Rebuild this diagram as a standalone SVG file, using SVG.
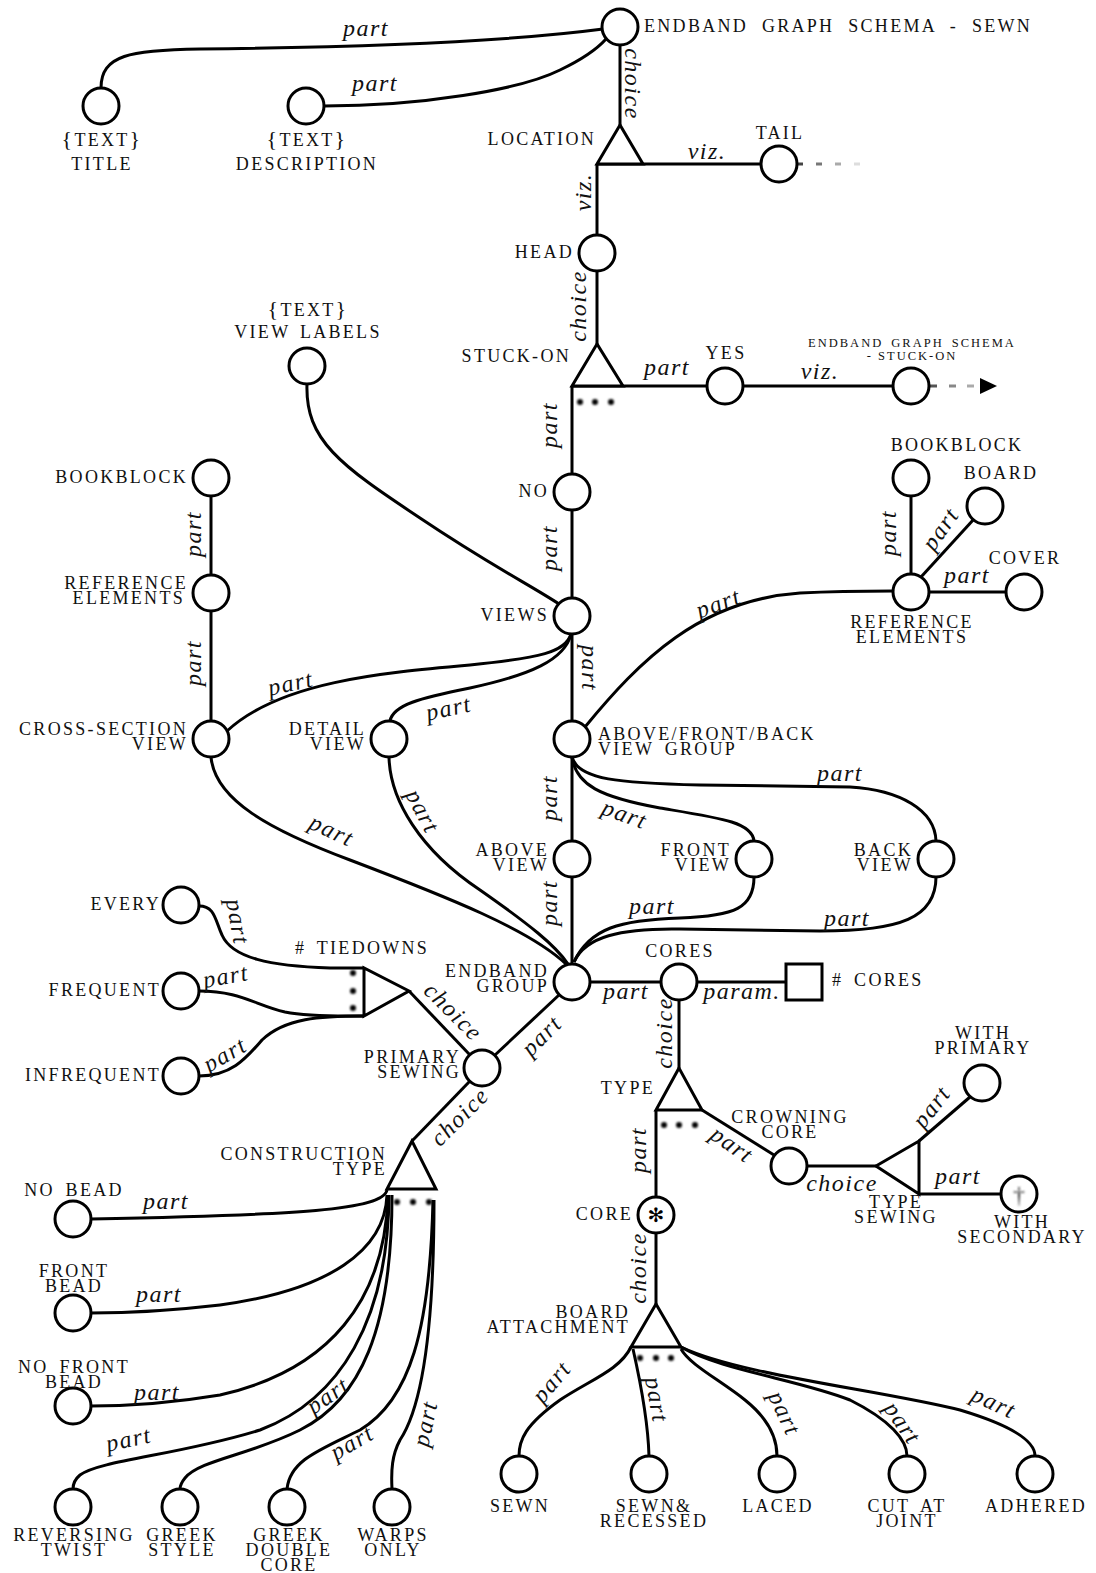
<svg xmlns="http://www.w3.org/2000/svg" width="1096" height="1573" viewBox="0 0 1096 1573">
<defs>
<style>
.n{fill:#fff;stroke:#000;stroke-width:3}
.e{fill:none;stroke:#000;stroke-width:3}
.t{font-family:"Liberation Serif",serif;font-size:18px;letter-spacing:2.3px;fill:#111}
.s{font-family:"Liberation Serif",serif;font-size:12.5px;letter-spacing:2px;fill:#111}
.m{text-anchor:middle}
.r{text-anchor:end}
.it{font-family:"Liberation Serif",serif;font-style:italic;font-size:24px;letter-spacing:1.5px;text-anchor:middle;fill:#111}
.dot{fill:#000;filter:url(#blur)}
</style>
<filter id="blur" x="-1" y="-1" width="3" height="3"><feGaussianBlur stdDeviation="1.2"/></filter>
</defs>
<rect width="1096" height="1573" fill="#fff"/>

<g id="connectors">
<path class="e" d="M101 88 C101 55 130 50 200 49 C380 47 520 40 603 29"/>
<path class="e" d="M324 106 C420 106 520 90 560 70 C585 58 598 48 606 39"/>
<path class="e" d="M620 45 L620 125"/>
<path class="e" d="M597 164 L761 164"/>
<path class="e" d="M597 164 L597 235"/>
<path class="e" d="M597 271 L597 344"/>
<path class="e" d="M572 386 L707 386"/>
<path class="e" d="M743 386 L893 386"/>
<path class="e" d="M572 386 L572 474"/>
<path class="e" d="M572 510 L572 598"/>
<path class="e" d="M307 384 C305 440 340 465 420 518 C490 565 530 585 559 604"/>
<path class="e" d="M211 496 L211 575"/>
<path class="e" d="M211 611 L211 721"/>
<path class="e" d="M571 634 C566 652 540 658 470 665 C380 673 280 682 227 731"/>
<path class="e" d="M571 634 C565 660 530 675 470 688 C420 698 393 705 390 721"/>
<path class="e" d="M572 634 L572 721"/>
<path class="e" d="M585 727 C640 660 700 600 800 593 C840 591 870 591 893 591"/>
<path class="e" d="M911 574 L911 496"/>
<path class="e" d="M921 577 L974 519"/>
<path class="e" d="M929 592 L1006 592"/>
<path class="e" d="M572 757 L572 841"/>
<path class="e" d="M572 757 C576 785 600 797 660 808 C720 818 752 822 754 841"/>
<path class="e" d="M572 757 C578 780 620 783 700 785 L850 787 C900 790 935 810 936 841"/>
<path class="e" d="M572 877 L572 964"/>
<path class="e" d="M754 877 C754 908 735 916 680 918 C620 920 590 928 574 962"/>
<path class="e" d="M936 877 C936 918 900 931 820 931 L680 929 C620 928 585 937 574 962"/>
<path class="e" d="M211 757 C215 800 270 830 350 860 C450 898 530 930 566 964"/>
<path class="e" d="M389 757 C390 800 420 850 480 890 C530 925 555 945 568 964"/>
<path class="e" d="M590 982 L661 982"/>
<path class="e" d="M697 982 L786 982"/>
<path class="e" d="M679 1000 L679 1068"/>
<path class="e" d="M656 1110 L656 1197"/>
<path class="e" d="M702 1110 L774 1155"/>
<path class="e" d="M807 1166 L876 1166"/>
<path class="e" d="M919 1141 L970 1097"/>
<path class="e" d="M919 1194 L1001 1194"/>
<path class="e" d="M656 1233 L656 1304"/>
<path class="e" d="M631 1347 C620 1370 590 1380 560 1400 C525 1425 519 1440 519 1456"/>
<path class="e" d="M633 1349 C640 1380 648 1420 649 1456"/>
<path class="e" d="M681 1349 C690 1365 720 1380 745 1400 C770 1420 777 1440 777 1456"/>
<path class="e" d="M681 1347 C720 1370 800 1380 850 1400 C890 1420 907 1440 907 1456"/>
<path class="e" d="M681 1347 C740 1375 880 1390 960 1410 C1010 1425 1035 1440 1035 1456"/>
<path class="e" d="M199 906 C215 906 215 920 222 935 C232 958 270 966 330 968 L364 968"/>
<path class="e" d="M199 991 C240 991 255 1005 285 1012 C310 1017 340 1016 364 1016"/>
<path class="e" d="M199 1076 C230 1076 245 1060 262 1040 C285 1018 320 1016 364 1016"/>
<path class="e" d="M409 991 L470 1055"/>
<path class="e" d="M559 995 L495 1055"/>
<path class="e" d="M470 1081 L412 1141"/>
<path class="e" d="M387 1190 C383 1210 300 1215 91 1219"/>
<path class="e" d="M387 1195 C385 1250 330 1290 220 1305 C160 1312 120 1313 91 1313"/>
<path class="e" d="M388 1195 C385 1300 330 1370 220 1395 C160 1405 120 1406 91 1406"/>
<path class="e" d="M389 1195 C388 1320 340 1400 260 1430 C180 1455 100 1460 80 1475 C74 1480 73 1485 73 1489"/>
<path class="e" d="M392 1195 C392 1330 360 1400 300 1430 C250 1455 200 1460 185 1478 C181 1483 180 1486 180 1489"/>
<path class="e" d="M433 1200 C430 1330 410 1400 360 1430 C320 1450 290 1460 287 1489"/>
<path class="e" d="M434 1200 C434 1340 420 1410 400 1440 C392 1455 391 1470 392 1489"/>
<g stroke-width="3">
<path d="M797 164 H803" stroke="#444"/>
<path d="M816 164 H822" stroke="#777"/>
<path d="M835 164 H841" stroke="#aaa"/>
<path d="M854 164 H860" stroke="#ddd"/>
<path d="M930 386 H937" stroke="#555"/>
<path d="M949 386 H956" stroke="#888"/>
<path d="M967 386 H974" stroke="#aaa"/>
</g>
<path d="M980 378 L997 386 L980 394 Z" fill="#000"/>
</g>

<g id="edge-labels">
<text class="it" transform="translate(366,30)" y="6">part</text>
<text class="it" transform="translate(375,85)" y="6">part</text>
<text class="it" transform="translate(631,84) rotate(90)" y="6">choice</text>
<text class="it" transform="translate(707,153)" y="6">viz.</text>
<text class="it" transform="translate(585,192) rotate(-90)" y="6">viz.</text>
<text class="it" transform="translate(580,306) rotate(-90)" y="6">choice</text>
<text class="it" transform="translate(667,369)" y="6">part</text>
<text class="it" transform="translate(820,373)" y="6">viz.</text>
<text class="it" transform="translate(551,425) rotate(-90)" y="6">part</text>
<text class="it" transform="translate(551,548) rotate(-90)" y="6">part</text>
<text class="it" transform="translate(195,534) rotate(-90)" y="6">part</text>
<text class="it" transform="translate(195,663) rotate(-90)" y="6">part</text>
<text class="it" transform="translate(291,685) rotate(-12)" y="6">part</text>
<text class="it" transform="translate(449,710) rotate(-12)" y="6">part</text>
<text class="it" transform="translate(588,668) rotate(90)" y="6">part</text>
<text class="it" transform="translate(719,605) rotate(-20)" y="6">part</text>
<text class="it" transform="translate(890,533) rotate(-90)" y="6">part</text>
<text class="it" transform="translate(942,530) rotate(-55)" y="6">part</text>
<text class="it" transform="translate(967,577)" y="6">part</text>
<text class="it" transform="translate(551,798) rotate(-90)" y="6">part</text>
<text class="it" transform="translate(624,816) rotate(20)" y="6">part</text>
<text class="it" transform="translate(840,775)" y="6">part</text>
<text class="it" transform="translate(551,903) rotate(-90)" y="6">part</text>
<text class="it" transform="translate(652,908)" y="6">part</text>
<text class="it" transform="translate(847,920)" y="6">part</text>
<text class="it" transform="translate(331,832) rotate(25)" y="6">part</text>
<text class="it" transform="translate(421,812) rotate(62)" y="6">part</text>
<text class="it" transform="translate(626,993)" y="6">part</text>
<text class="it" transform="translate(742,993)" y="6">param.</text>
<text class="it" transform="translate(666,1033) rotate(-90)" y="6">choice</text>
<text class="it" transform="translate(640,1150) rotate(-90)" y="6">part</text>
<text class="it" transform="translate(731,1146) rotate(35)" y="6">part</text>
<text class="it" transform="translate(842,1185)" y="6">choice</text>
<text class="it" transform="translate(933,1108) rotate(-52)" y="6">part</text>
<text class="it" transform="translate(958,1178)" y="6">part</text>
<text class="it" transform="translate(640,1268) rotate(-90)" y="6">choice</text>
<text class="it" transform="translate(553,1383) rotate(-50)" y="6">part</text>
<text class="it" transform="translate(655,1400) rotate(80)" y="6">part</text>
<text class="it" transform="translate(783,1414) rotate(65)" y="6">part</text>
<text class="it" transform="translate(901,1424) rotate(55)" y="6">part</text>
<text class="it" transform="translate(993,1404) rotate(25)" y="6">part</text>
<text class="it" transform="translate(236,922) rotate(80)" y="6">part</text>
<text class="it" transform="translate(226,978) rotate(-10)" y="6">part</text>
<text class="it" transform="translate(226,1056) rotate(-30)" y="6">part</text>
<text class="it" transform="translate(452,1013) rotate(45)" y="6">choice</text>
<text class="it" transform="translate(543,1037) rotate(-45)" y="6">part</text>
<text class="it" transform="translate(461,1118) rotate(-45)" y="6">choice</text>
<text class="it" transform="translate(166,1203)" y="6">part</text>
<text class="it" transform="translate(159,1296)" y="6">part</text>
<text class="it" transform="translate(157,1394)" y="6">part</text>
<text class="it" transform="translate(129,1441) rotate(-12)" y="6">part</text>
<text class="it" transform="translate(329,1397) rotate(-35)" y="6">part</text>
<text class="it" transform="translate(353,1444) rotate(-30)" y="6">part</text>
<text class="it" transform="translate(427,1424) rotate(-78)" y="6">part</text>
</g>

<g id="root"><circle class="n" cx="620" cy="27" r="18"/><text class="t" x="644" y="32" word-spacing="7">ENDBAND GRAPH SCHEMA - SEWN</text></g>
<g id="title"><circle class="n" cx="101" cy="106" r="18"/><text class="t m" y="146"><tspan x="102"><tspan font-size="22">{</tspan>TEXT<tspan font-size="22">}</tspan></tspan><tspan x="102" dy="24">TITLE</tspan></text></g>
<g id="description"><circle class="n" cx="306" cy="106" r="18"/><text class="t m" y="146"><tspan x="307"><tspan font-size="22">{</tspan>TEXT<tspan font-size="22">}</tspan></tspan><tspan x="307" dy="24">DESCRIPTION</tspan></text></g>
<g id="location"><path class="n" d="M620 125 L597 164 L643 164 Z"/><text class="t r" x="596" y="145">LOCATION</text></g>
<g id="tail"><circle class="n" cx="779" cy="164" r="18"/><text class="t m" x="780" y="139">TAIL</text></g>
<g id="head"><circle class="n" cx="597" cy="253" r="18"/><text class="t r" x="574" y="258">HEAD</text></g>
<g id="stuck-on"><path class="n" d="M597 344 L572 386 L623 386 Z"/><text class="t r" x="571" y="362">STUCK-ON</text>
<circle class="dot" cx="580" cy="402" r="3"/><circle class="dot" cx="595" cy="402" r="3"/><circle class="dot" cx="611" cy="402" r="3"/></g>
<g id="yes"><circle class="n" cx="725" cy="386" r="18"/><text class="t m" x="726" y="359">YES</text></g>
<g id="stuck-on-schema"><circle class="n" cx="911" cy="386" r="18"/><text class="s m" y="347"><tspan x="912" word-spacing="3">ENDBAND GRAPH SCHEMA</tspan><tspan x="912" dy="13">- STUCK-ON</tspan></text></g>
<g id="no"><circle class="n" cx="572" cy="492" r="18"/><text class="t r" x="549" y="497">NO</text></g>
<g id="views"><circle class="n" cx="572" cy="616" r="18"/><text class="t r" x="549" y="621">VIEWS</text></g>
<g id="view-labels"><circle class="n" cx="307" cy="366" r="18"/><text class="t m" y="316"><tspan x="308"><tspan font-size="22">{</tspan>TEXT<tspan font-size="22">}</tspan></tspan><tspan x="308" dy="22" word-spacing="3">VIEW LABELS</tspan></text></g>
<g id="bookblock-l"><circle class="n" cx="211" cy="478" r="18"/><text class="t r" x="188" y="483">BOOKBLOCK</text></g>
<g id="refel-l"><circle class="n" cx="211" cy="593" r="18"/><text class="t r" y="589"><tspan x="188">REFERENCE</tspan><tspan x="185" dy="15">ELEMENTS</tspan></text></g>
<g id="cross-section"><circle class="n" cx="211" cy="739" r="18"/><text class="t r" y="735"><tspan x="188">CROSS-SECTION</tspan><tspan x="188" dy="15">VIEW</tspan></text></g>
<g id="detail"><circle class="n" cx="389" cy="739" r="18"/><text class="t r" y="735"><tspan x="366">DETAIL</tspan><tspan x="366" dy="15">VIEW</tspan></text></g>
<g id="afb"><circle class="n" cx="572" cy="739" r="18"/><text class="t" y="740"><tspan x="598">ABOVE/FRONT/BACK</tspan><tspan x="598" dy="15" word-spacing="4">VIEW GROUP</tspan></text></g>
<g id="refel-r"><circle class="n" cx="911" cy="592" r="18"/><text class="t m" y="628"><tspan x="912">REFERENCE</tspan><tspan x="912" dy="15">ELEMENTS</tspan></text></g>
<g id="bookblock-r"><circle class="n" cx="911" cy="478" r="18"/><text class="t m" x="957" y="451">BOOKBLOCK</text></g>
<g id="board"><circle class="n" cx="985" cy="506" r="18"/><text class="t m" x="1001" y="479">BOARD</text></g>
<g id="cover"><circle class="n" cx="1024" cy="592" r="18"/><text class="t m" x="1025" y="564">COVER</text></g>
<g id="above"><circle class="n" cx="572" cy="859" r="18"/><text class="t r" y="856"><tspan x="549">ABOVE</tspan><tspan x="549" dy="15">VIEW</tspan></text></g>
<g id="front"><circle class="n" cx="754" cy="859" r="18"/><text class="t r" y="856"><tspan x="731">FRONT</tspan><tspan x="731" dy="15">VIEW</tspan></text></g>
<g id="back"><circle class="n" cx="936" cy="859" r="18"/><text class="t r" y="856"><tspan x="913">BACK</tspan><tspan x="913" dy="15">VIEW</tspan></text></g>
<g id="endband-group"><circle class="n" cx="572" cy="982" r="18"/><text class="t r" y="977"><tspan x="549">ENDBAND</tspan><tspan x="549" dy="15">GROUP</tspan></text></g>
<g id="cores"><circle class="n" cx="679" cy="982" r="18"/><text class="t m" x="680" y="957">CORES</text></g>
<g id="num-cores"><rect class="n" x="786" y="964" width="36" height="36"/><text class="t" x="832" y="986" word-spacing="4"># CORES</text></g>
<g id="type"><path class="n" d="M679 1068 L656 1110 L702 1110 Z"/><text class="t r" x="655" y="1094">TYPE</text>
<circle class="dot" cx="664" cy="1125" r="3"/><circle class="dot" cx="679" cy="1125" r="3"/><circle class="dot" cx="695" cy="1125" r="3"/></g>
<g id="core"><circle class="n" cx="656" cy="1215" r="18"/><text x="656" y="1222" text-anchor="middle" font-family="DejaVu Sans,sans-serif" font-size="20">✻</text><text class="t r" x="633" y="1220">CORE</text></g>
<g id="crowning-core"><circle class="n" cx="789" cy="1166" r="18"/><text class="t m" y="1123"><tspan x="790">CROWNING</tspan><tspan x="790" dy="15">CORE</tspan></text></g>
<g id="type-sewing"><path class="n" d="M876 1166 L919 1141 L919 1194 Z"/><text class="t m" y="1208"><tspan x="896">TYPE</tspan><tspan x="896" dy="15">SEWING</tspan></text></g>
<g id="with-primary"><circle class="n" cx="982" cy="1083" r="18"/><text class="t m" y="1039"><tspan x="983">WITH</tspan><tspan x="983" dy="15">PRIMARY</tspan></text></g>
<g id="with-secondary"><circle class="n" cx="1019" cy="1194" r="18"/><text x="1019" y="1203" text-anchor="middle" font-family="Liberation Serif,serif" font-size="24" fill="#444" filter="url(#blur)">†</text><text class="t m" y="1228"><tspan x="1022">WITH</tspan><tspan x="1022" dy="15">SECONDARY</tspan></text></g>
<g id="board-attachment"><path class="n" d="M656 1304 L631 1347 L681 1347 Z"/><text class="t r" y="1318"><tspan x="630">BOARD</tspan><tspan x="630" dy="15">ATTACHMENT</tspan></text>
<circle class="dot" cx="640" cy="1358" r="3"/><circle class="dot" cx="656" cy="1358" r="3"/><circle class="dot" cx="671" cy="1358" r="3"/></g>
<g id="sewn"><circle class="n" cx="519" cy="1474" r="18"/><text class="t m" x="520" y="1512">SEWN</text></g>
<g id="sewn-recessed"><circle class="n" cx="649" cy="1474" r="18"/><text class="t m" y="1512"><tspan x="654">SEWN&amp;</tspan><tspan x="654" dy="15">RECESSED</tspan></text></g>
<g id="laced"><circle class="n" cx="777" cy="1474" r="18"/><text class="t m" x="778" y="1512">LACED</text></g>
<g id="cut-at-joint"><circle class="n" cx="907" cy="1474" r="18"/><text class="t m" y="1512"><tspan x="907" word-spacing="4">CUT AT</tspan><tspan x="907" dy="15">JOINT</tspan></text></g>
<g id="adhered"><circle class="n" cx="1035" cy="1474" r="18"/><text class="t m" x="1036" y="1512">ADHERED</text></g>
<g id="every"><circle class="n" cx="181" cy="905" r="18"/><text class="t r" x="161" y="910">EVERY</text></g>
<g id="frequent"><circle class="n" cx="181" cy="991" r="18"/><text class="t r" x="161" y="996">FREQUENT</text></g>
<g id="infrequent"><circle class="n" cx="181" cy="1076" r="18"/><text class="t r" x="161" y="1081">INFREQUENT</text></g>
<g id="tiedowns"><path class="n" d="M364 968 L364 1016 L409 991 Z"/><text class="t" x="295" y="954" word-spacing="4"># TIEDOWNS</text>
<circle class="dot" cx="353" cy="973" r="3"/><circle class="dot" cx="353" cy="991" r="3"/><circle class="dot" cx="353" cy="1008" r="3"/></g>
<g id="primary-sewing"><circle class="n" cx="482" cy="1068" r="18"/><text class="t r" y="1063"><tspan x="461">PRIMARY</tspan><tspan x="461" dy="15">SEWING</tspan></text></g>
<g id="construction-type"><path class="n" d="M412 1141 L387 1189 L436 1189 Z"/><text class="t r" y="1160"><tspan x="387">CONSTRUCTION</tspan><tspan x="387" dy="15">TYPE</tspan></text>
<circle class="dot" cx="397" cy="1202" r="3"/><circle class="dot" cx="413" cy="1202" r="3"/><circle class="dot" cx="429" cy="1202" r="3"/></g>
<g id="no-bead"><circle class="n" cx="73" cy="1219" r="18"/><text class="t m" x="74" y="1196" word-spacing="4">NO BEAD</text></g>
<g id="front-bead"><circle class="n" cx="73" cy="1313" r="18"/><text class="t m" y="1277"><tspan x="74">FRONT</tspan><tspan x="74" dy="15">BEAD</tspan></text></g>
<g id="no-front-bead"><circle class="n" cx="73" cy="1406" r="18"/><text class="t m" y="1373"><tspan x="74" word-spacing="4">NO FRONT</tspan><tspan x="74" dy="15">BEAD</tspan></text></g>
<g id="reversing-twist"><circle class="n" cx="73" cy="1507" r="18"/><text class="t m" y="1541"><tspan x="74">REVERSING</tspan><tspan x="74" dy="15">TWIST</tspan></text></g>
<g id="greek-style"><circle class="n" cx="180" cy="1507" r="18"/><text class="t m" y="1541"><tspan x="182">GREEK</tspan><tspan x="182" dy="15">STYLE</tspan></text></g>
<g id="greek-double-core"><circle class="n" cx="287" cy="1507" r="18"/><text class="t m" y="1541"><tspan x="289">GREEK</tspan><tspan x="289" dy="15">DOUBLE</tspan><tspan x="289" dy="15">CORE</tspan></text></g>
<g id="warps-only"><circle class="n" cx="392" cy="1507" r="18"/><text class="t m" y="1541"><tspan x="393">WARPS</tspan><tspan x="393" dy="15">ONLY</tspan></text></g>
</svg>
